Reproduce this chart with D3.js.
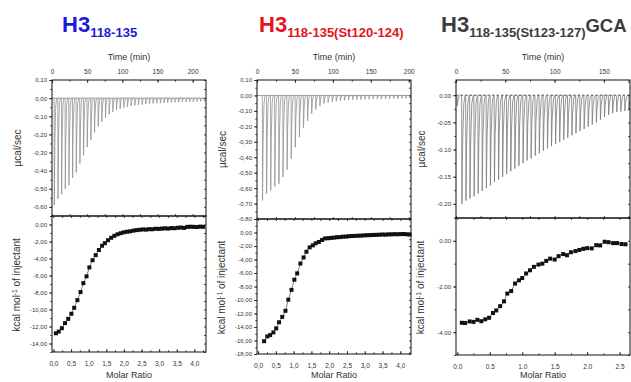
<!DOCTYPE html>
<html><head><meta charset="utf-8">
<script src="https://cdn.jsdelivr.net/npm/d3@7"></script>
<style>
html,body{margin:0;padding:0;background:#fff;}
svg{display:block;font-family:"Liberation Sans",Arial,sans-serif;}
</style></head>
<body><svg id="chart" width="631" height="382"></svg>
<script>
// ---------- DATA ----------
// Panel 1: H3 118-135
const p1Times = [3, 8.2, 13.4, 18.6, 23.8, 29, 34.2, 39.4, 44.6, 49.8, 55, 60.2, 65.4, 70.6, 75.8, 81, 86.2, 91.4, 96.6, 101.8, 107, 112.2, 117.4, 122.6, 127.8, 133, 138.2, 143.4, 148.6, 153.8, 159, 164.2, 169.4, 174.6, 179.8, 185, 190.2, 195.4, 200.6, 205.8, 211, 216.2];
const p1Peaks = [-0.59, -0.555, -0.53, -0.50, -0.48, -0.44, -0.41, -0.36, -0.315, -0.27, -0.23, -0.19, -0.155, -0.13, -0.107, -0.089, -0.076, -0.066, -0.058, -0.052, -0.047, -0.043, -0.040, -0.037, -0.035, -0.033, -0.031, -0.029, -0.028, -0.027, -0.026, -0.025, -0.024, -0.023, -0.022, -0.021, -0.021, -0.020, -0.019, -0.019, -0.018, -0.018];
const p1Ratio = [0.07, 0.15, 0.24, 0.33, 0.42, 0.51, 0.59, 0.68, 0.77, 0.85, 0.94, 1.02, 1.11, 1.20, 1.29, 1.38, 1.46, 1.55, 1.64, 1.73, 1.82, 1.91, 2.00, 2.09, 2.18, 2.27, 2.36, 2.45, 2.54, 2.63, 2.72, 2.81, 2.90, 2.99, 3.08, 3.17, 3.26, 3.35, 3.44, 3.53, 3.62, 3.71, 3.80, 3.89, 3.98, 4.07, 4.16, 4.25];
const p1Heat = [-12.8, -12.6, -12.2, -11.6, -11.1, -10.5, -9.8, -8.9, -7.95, -6.9, -6.1, -5.05, -4.2, -3.6, -3.0, -2.5, -2.2, -1.85, -1.56, -1.33, -1.15, -1.02, -0.92, -0.85, -0.80, -0.72, -0.66, -0.62, -0.58, -0.60, -0.55, -0.56, -0.50, -0.52, -0.48, -0.45, -0.48, -0.42, -0.44, -0.38, -0.36, -0.40, -0.28, -0.26, -0.28, -0.30, -0.25, -0.27];

// Panel 2: H3 118-135(St120-124)
const p2Times = [7, 12.4, 17.8, 23.2, 28.6, 34, 39.4, 44.8, 50.2, 55.6, 61, 66.4, 71.8, 77.2, 82.6, 88, 93.4, 98.8, 104.2, 109.6, 115, 120.4, 125.8, 131.2, 136.6, 142, 147.4, 152.8, 158.2, 163.6, 169, 174.4, 179.8, 185.2, 190.6, 196, 201.4];
const p2Peaks = [-0.68, -0.636, -0.615, -0.589, -0.571, -0.528, -0.481, -0.41, -0.335, -0.27, -0.208, -0.165, -0.118, -0.09, -0.068, -0.053, -0.046, -0.041, -0.037, -0.034, -0.032, -0.030, -0.028, -0.027, -0.026, -0.025, -0.024, -0.023, -0.022, -0.022, -0.021, -0.021, -0.020, -0.020, -0.019, -0.019, -0.018];
const p2Ratio = [0.17, 0.26, 0.34, 0.43, 0.51, 0.59, 0.68, 0.77, 0.85, 0.94, 1.02, 1.10, 1.19, 1.28, 1.36, 1.45, 1.54, 1.62, 1.71, 1.80, 1.88, 1.97, 2.05, 2.14, 2.22, 2.31, 2.39, 2.48, 2.56, 2.65, 2.73, 2.82, 2.90, 2.99, 3.07, 3.16, 3.24, 3.33, 3.41, 3.50, 3.58, 3.67, 3.75, 3.84, 3.92, 4.01, 4.09, 4.18, 4.26];
const p2Heat = [-16.1, -15.4, -15.2, -14.8, -14.2, -13.3, -12.5, -11.6, -9.95, -8.5, -7.0, -6.05, -4.6, -3.7, -2.85, -2.2, -1.9, -1.6, -1.4, -1.1, -0.88, -0.85, -0.80, -0.76, -0.70, -0.68, -0.62, -0.60, -0.55, -0.52, -0.50, -0.48, -0.46, -0.42, -0.40, -0.38, -0.36, -0.35, -0.33, -0.30, -0.32, -0.28, -0.27, -0.25, -0.26, -0.24, -0.22, -0.26, -0.30];

// Panel 3: H3 118-135(St123-127)GCA
const p3Times = [1.0, 5.7, 9.8, 13.9, 18.1, 22.2, 26.3, 30.5, 34.6, 38.7, 42.9, 47.0, 51.1, 55.3, 59.4, 63.5, 67.7, 71.8, 75.9, 80.1, 84.2, 88.3, 92.5, 96.6, 100.7, 104.9, 109.0, 113.1, 117.3, 121.4, 125.5, 129.7, 133.8, 137.9, 142.1, 146.2, 150.3, 154.5, 158.6, 162.7, 166.9, 171.0, 175.1];
const p3Peaks = [-0.02, -0.200, -0.194, -0.190, -0.186, -0.181, -0.176, -0.171, -0.166, -0.160, -0.155, -0.150, -0.145, -0.140, -0.135, -0.130, -0.125, -0.120, -0.116, -0.111, -0.107, -0.102, -0.098, -0.094, -0.090, -0.086, -0.082, -0.078, -0.074, -0.070, -0.066, -0.062, -0.058, -0.054, -0.050, -0.045, -0.040, -0.036, -0.033, -0.031, -0.030, -0.029, -0.028];
const p3Ratio = [0.07, 0.12, 0.19, 0.25, 0.31, 0.37, 0.43, 0.49, 0.55, 0.60, 0.66, 0.72, 0.77, 0.83, 0.89, 0.95, 1.00, 1.06, 1.12, 1.18, 1.25, 1.31, 1.37, 1.43, 1.50, 1.56, 1.63, 1.69, 1.75, 1.82, 1.88, 1.94, 2.00, 2.07, 2.14, 2.20, 2.27, 2.33, 2.40, 2.46, 2.53, 2.59];
const p3Heat = [-3.59, -3.60, -3.53, -3.55, -3.46, -3.52, -3.44, -3.37, -3.16, -3.05, -2.86, -2.65, -2.31, -2.20, -1.87, -1.73, -1.63, -1.43, -1.29, -1.14, -1.04, -1.00, -0.88, -0.78, -0.82, -0.67, -0.58, -0.63, -0.50, -0.45, -0.40, -0.35, -0.32, -0.33, -0.19, -0.20, -0.04, -0.06, -0.10, -0.10, -0.14, -0.15];

// Tick values
const timeTicks12 = [0, 50, 100, 150, 200];
const timeTicks3 = [0, 50, 100, 150];
const p1PowerTicks = [0.10, 0.00, -0.10, -0.20, -0.30, -0.40, -0.50, -0.60];
const p2PowerTicks = [0.10, 0.00, -0.10, -0.20, -0.30, -0.40, -0.50, -0.60, -0.70, -0.80];
const p3PowerTicks = [0.00, -0.05, -0.10, -0.15, -0.20];
const p1HeatTicks = [0, -2, -4, -6, -8, -10, -12, -14];
const p2HeatTicks = [0, -2, -4, -6, -8, -10, -12, -14, -16, -18];
const p3HeatTicks = [0, -2, -4];
const ratioTicks12 = [0, 0.5, 1.0, 1.5, 2.0, 2.5, 3.0, 3.5, 4.0];
const ratioTicks3 = [0, 0.5, 1.0, 1.5, 2.0, 2.5];

// Titles
const titleMain = "H3";
const titleSubs = ["118-135", "118-135(St120-124)", "118-135(St123-127)"];
const titleSuffix3 = "GCA";

// ---------- DRAWING ----------
const svg = d3.select("#chart");
const commaLoc = d3.formatLocale({decimal: ",", thousands: ".", grouping: [3], currency: ["", ""], minus: "-"});
const dotLoc = d3.formatLocale({decimal: ".", thousands: ",", grouping: [3], currency: ["", ""], minus: "-"});

const panels = [
  {L: 52, R: 206, T: 80, M: 216, B: 352, tDom: [0, 219], pDom: [-0.65, 0.10], hDom: [-15, 1], rDom: [-0.04, 4.33],
   times: p1Times, peaks: p1Peaks, ratio: p1Ratio, heat: p1Heat, tTicks: timeTicks12, pTicks: p1PowerTicks, hTicks: p1HeatTicks, rTicks: ratioTicks12,
   pMinorStep: 0.05, hMinorStep: 1, rMinorStep: 0.25, tMinorStep: 25, loc: commaLoc, spikeColor: "#929292", dashedBase: false},
  {L: 257, R: 411, T: 80, M: 219, B: 354, tDom: [0, 203], pDom: [-0.80, 0.10], hDom: [-18, 2], rDom: [-0.03, 4.30],
   times: p2Times, peaks: p2Peaks, ratio: p2Ratio, heat: p2Heat, tTicks: timeTicks12, pTicks: p2PowerTicks, hTicks: p2HeatTicks, rTicks: ratioTicks12,
   pMinorStep: 0.05, hMinorStep: 1, rMinorStep: 0.25, tMinorStep: 25, loc: commaLoc, spikeColor: "#929292", dashedBase: false},
  {L: 456, R: 630, T: 80, M: 218, B: 355, tDom: [0, 176.5], pDom: [-0.226, 0.028], hDom: [-5, 1], rDom: [-0.02, 2.66],
   times: p3Times, peaks: p3Peaks, ratio: p3Ratio, heat: p3Heat, tTicks: timeTicks3, pTicks: p3PowerTicks, hTicks: p3HeatTicks, rTicks: ratioTicks3,
   pMinorStep: 0.025, hMinorStep: 1, rMinorStep: 0.25, tMinorStep: 25, loc: dotLoc, spikeColor: "#7a7a7a", dashedBase: true}
];

function minorTicks(dom, step) {
  const out = [];
  const lo = Math.min(dom[0], dom[1]), hi = Math.max(dom[0], dom[1]);
  const start = Math.ceil(lo / step - 1e-9);
  const end = Math.floor(hi / step + 1e-9);
  for (let k = start; k <= end; k++) out.push(+(k * step).toFixed(6));
  return out;
}

function styleAxis(g, size) {
  g.select(".domain").remove();
  g.selectAll(".tick line").attr("stroke", "#222").attr("stroke-width", 0.8);
  g.selectAll(".tick text").attr("fill", "#333").style("font-size", size + "px").style("font-family", "'Liberation Sans',Arial,sans-serif");
}

panels.forEach((p, i) => {
  const g = svg.append("g");
  const t = d3.scaleLinear().domain(p.tDom).range([p.L, p.R]);
  const yP = d3.scaleLinear().domain(p.pDom).range([p.M, p.T]);
  const x = d3.scaleLinear().domain(p.rDom).range([p.L, p.R]);
  const yH = d3.scaleLinear().domain(p.hDom).range([p.B, p.M]);
  const fmt2 = p.loc.format(".2f");
  const fmt1 = p.loc.format(".1f");

  // --- Upper plot: raw power trace ---
  const clipId = "clip" + i;
  g.append("clipPath").attr("id", clipId).append("rect")
    .attr("x", p.L).attr("y", p.T).attr("width", p.R - p.L).attr("height", p.M - p.T);
  const up = g.append("g").attr("clip-path", `url(#${clipId})`);
  up.append("line").attr("x1", p.L).attr("x2", p.R).attr("y1", yP(0)).attr("y2", yP(0))
    .attr("stroke", p.dashedBase ? "#333" : "#888").attr("stroke-width", p.dashedBase ? 0.9 : 0.8)
    .attr("stroke-dasharray", p.dashedBase ? "2.5,2" : null);
  const spikeLine = d3.line().x(d => t(d[0])).y(d => yP(d[1]));
  up.selectAll("path.spike").data(p.times.map((tt, k) => ({t: tt, v: p.peaks[k]})))
    .join("path").attr("class", "spike")
    .attr("d", d => spikeLine([[d.t, 0], [d.t + 0.3, d.v], [d.t + 1.0, d.v * 0.45], [d.t + 2.2, d.v * 0.08], [d.t + 3.5, 0]]))
    .attr("fill", "none").attr("stroke", p.spikeColor).attr("stroke-width", 0.8);

  // --- Lower plot: integrated heats ---
  const pts = p.ratio.map((r, k) => ({r, h: p.heat[k]}));
  g.append("path").datum(pts)
    .attr("d", d3.line().x(d => x(d.r)).y(d => yH(d.h)).curve(d3.curveMonotoneX))
    .attr("fill", "none").attr("stroke", "#444").attr("stroke-width", 0.7);
  const sq = 4;
  g.selectAll("rect.pt").data(pts).join("rect").attr("class", "pt")
    .attr("x", d => x(d.r) - sq / 2).attr("y", d => yH(d.h) - sq / 2)
    .attr("width", sq).attr("height", sq).attr("fill", "#111");

  // --- Axes ---
  const aTop = g.append("g").attr("transform", `translate(0,${p.T})`)
    .call(d3.axisTop(t).tickValues(p.tTicks).tickSize(-3).tickPadding(6).tickFormat(d3.format("d")));
  styleAxis(aTop, 6.5);
  const aTopMin = g.append("g").attr("transform", `translate(0,${p.T})`)
    .call(d3.axisTop(t).tickValues(minorTicks(p.tDom, p.tMinorStep)).tickSize(-1.8).tickFormat(""));
  styleAxis(aTopMin, 6);
  const aMidT = g.append("g").attr("transform", `translate(0,${p.M})`)
    .call(d3.axisBottom(t).tickValues(minorTicks(p.tDom, p.tMinorStep)).tickSize(-2).tickFormat(""));
  styleAxis(aMidT, 6);
  const aMidR = g.append("g").attr("transform", `translate(0,${p.M})`)
    .call(d3.axisTop(x).tickValues(minorTicks(p.rDom, p.rMinorStep)).tickSize(-2).tickFormat(""));
  styleAxis(aMidR, 6);
  const aBot = g.append("g").attr("transform", `translate(0,${p.B})`)
    .call(d3.axisBottom(x).tickValues(p.rTicks).tickSizeInner(-3).tickSizeOuter(0).tickPadding(9).tickFormat(fmt1));
  styleAxis(aBot, 6.5);
  const aBotMin = g.append("g").attr("transform", `translate(0,${p.B})`)
    .call(d3.axisBottom(x).tickValues(minorTicks(p.rDom, p.rMinorStep)).tickSize(-1.8).tickFormat(""));
  styleAxis(aBotMin, 6);
  const aLP = g.append("g").attr("transform", `translate(${p.L},0)`)
    .call(d3.axisLeft(yP).tickValues(p.pTicks).tickSize(3).tickPadding(2).tickFormat(fmt2));
  styleAxis(aLP, 6);
  const aLPm = g.append("g").attr("transform", `translate(${p.L},0)`)
    .call(d3.axisLeft(yP).tickValues(minorTicks(p.pDom, p.pMinorStep)).tickSize(1.8).tickFormat(""));
  styleAxis(aLPm, 6);
  const aLH = g.append("g").attr("transform", `translate(${p.L},0)`)
    .call(d3.axisLeft(yH).tickValues(p.hTicks).tickSize(3).tickPadding(2).tickFormat(fmt2));
  styleAxis(aLH, 6);
  const aLHm = g.append("g").attr("transform", `translate(${p.L},0)`)
    .call(d3.axisLeft(yH).tickValues(minorTicks(p.hDom, p.hMinorStep)).tickSize(1.8).tickFormat(""));
  styleAxis(aLHm, 6);
  const aRP = g.append("g").attr("transform", `translate(${p.R},0)`)
    .call(d3.axisRight(yP).tickValues(minorTicks(p.pDom, p.pMinorStep)).tickSize(-2).tickFormat(""));
  styleAxis(aRP, 6);
  const aRH = g.append("g").attr("transform", `translate(${p.R},0)`)
    .call(d3.axisRight(yH).tickValues(minorTicks(p.hDom, p.hMinorStep)).tickSize(-2).tickFormat(""));
  styleAxis(aRH, 6);

  g.append("rect").attr("x", p.L).attr("y", p.T).attr("width", p.R - p.L).attr("height", p.M - p.T)
    .attr("fill", "none").attr("stroke", "#111").attr("stroke-width", 1);
  g.append("rect").attr("x", p.L).attr("y", p.M).attr("width", p.R - p.L).attr("height", p.B - p.M)
    .attr("fill", "none").attr("stroke", "#111").attr("stroke-width", 1);

  const cx = (p.L + p.R) / 2;
  g.append("text").attr("x", cx).attr("y", 60).attr("text-anchor", "middle")
    .attr("fill", "#333").style("font-size", "9px").text("Time (min)");
  g.append("text").attr("x", cx).attr("y", 378).attr("text-anchor", "middle")
    .attr("fill", "#333").style("font-size", "9px").text("Molar Ratio");
  const ylx = p.L - 31;
  g.append("text").attr("transform", `translate(${ylx},${(p.T + p.M) / 2}) rotate(-90)`)
    .attr("text-anchor", "middle").attr("fill", "#333").style("font-size", "10px").text("µcal/sec");
  const tk = g.append("text").attr("transform", `translate(${ylx - 1},${(p.M + p.B) / 2 + 1}) rotate(-90)`)
    .attr("text-anchor", "middle").attr("fill", "#333").style("font-size", "10px");
  tk.append("tspan").text("kcal mol");
  tk.append("tspan").attr("dy", -3.5).style("font-size", "6.5px").text("-1");
  tk.append("tspan").attr("dy", 3.5).text(" of injectant");
});

const titleDefs = [
  {x: 62, color: "#1a1ad8", sub: titleSubs[0], suffix: null},
  {x: 259, color: "#e3141b", sub: titleSubs[1], suffix: null},
  {x: 441, color: "#3c3c3c", sub: titleSubs[2], suffix: titleSuffix3}
];
titleDefs.forEach(d => {
  const tx = svg.append("text").attr("x", d.x).attr("y", 32).attr("fill", d.color)
    .style("font-weight", "bold");
  tx.append("tspan").style("font-size", "22px").text(titleMain);
  tx.append("tspan").attr("dy", 5).style("font-size", "13px").text(d.sub);
  if (d.suffix) tx.append("tspan").attr("dy", -5).style("font-size", "18.5px").text(d.suffix);
});
</script>
</body></html>
